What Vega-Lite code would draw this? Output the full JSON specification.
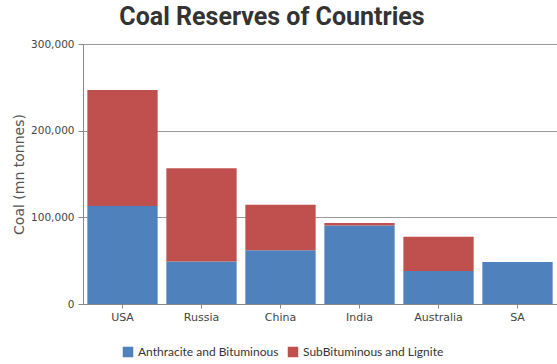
{
  "$schema": "https://vega.github.io/schema/vega-lite/v6.json",
  "width": 474,
  "height": 260,
  "autosize": "none",
  "padding": {"left": 83, "top": 44, "right": 0, "bottom": 60},
  "background": "white",
  "title": {
    "text": "Coal Reserves of Countries",
    "font": "Roboto, sans-serif",
    "fontSize": 25,
    "fontWeight": "bold",
    "color": "#333333",
    "anchor": "middle",
    "frame": "group",
    "dx": -48,
    "offset": 9
  },
  "data": {
    "values": [
      {"country": "USA", "type": "Anthracite and Bituminous", "value": 113000},
      {"country": "USA", "type": "SubBituminous and Lignite", "value": 134000},
      {"country": "Russia", "type": "Anthracite and Bituminous", "value": 49000},
      {"country": "Russia", "type": "SubBituminous and Lignite", "value": 107500},
      {"country": "China", "type": "Anthracite and Bituminous", "value": 62000},
      {"country": "China", "type": "SubBituminous and Lignite", "value": 52500},
      {"country": "India", "type": "Anthracite and Bituminous", "value": 90500},
      {"country": "India", "type": "SubBituminous and Lignite", "value": 3000},
      {"country": "Australia", "type": "Anthracite and Bituminous", "value": 38000},
      {"country": "Australia", "type": "SubBituminous and Lignite", "value": 39500},
      {"country": "SA", "type": "Anthracite and Bituminous", "value": 48500},
      {"country": "SA", "type": "SubBituminous and Lignite", "value": 0}
    ]
  },
  "mark": {"type": "bar"},
  "encoding": {
    "x": {
      "field": "country",
      "type": "nominal",
      "sort": ["USA", "Russia", "China", "India", "Australia", "SA"],
      "scale": {"paddingInner": 0.11, "paddingOuter": 0.055},
      "axis": {
        "title": null,
        "labelAngle": 0,
        "labelFont": "DejaVu Sans, sans-serif",
        "labelFontSize": 11,
        "labelColor": "#444",
        "domainColor": "#888",
        "tickColor": "#888",
        "tickSize": 4,
        "labelPadding": 3
      }
    },
    "y": {
      "field": "value",
      "type": "quantitative",
      "stack": "zero",
      "scale": {"domain": [0, 300000]},
      "axis": {
        "title": "Coal (mn tonnes)",
        "titleFont": "DejaVu Sans, sans-serif",
        "titleFontSize": 14,
        "titleFontWeight": "normal",
        "titleColor": "#555",
        "titlePadding": 4,
        "values": [0, 100000, 200000, 300000],
        "format": ",d",
        "labelFont": "DejaVu Sans, sans-serif",
        "labelFontSize": 10.5,
        "labelColor": "#444",
        "domainColor": "#888",
        "tickColor": "#888",
        "tickSize": 5,
        "labelPadding": 4,
        "grid": true,
        "gridColor": "#999",
        "gridWidth": 1
      }
    },
    "color": {
      "field": "type",
      "type": "nominal",
      "scale": {
        "domain": ["Anthracite and Bituminous", "SubBituminous and Lignite"],
        "range": ["#4F81BD", "#C0504D"]
      },
      "legend": {
        "title": null,
        "orient": "none",
        "legendX": 39,
        "legendY": 302,
        "direction": "horizontal",
        "symbolType": "square",
        "symbolSize": 110,
        "symbolStrokeWidth": 0,
        "symbolOpacity": 1,
        "labelFont": "Lato, sans-serif",
        "labelFontSize": 12,
        "labelColor": "#333",
        "labelLimit": 0,
        "columnPadding": 8,
        "labelOffset": 4
      }
    },
    "order": {"field": "type", "sort": "ascending"}
  },
  "config": {"view": {"stroke": null}}
}
